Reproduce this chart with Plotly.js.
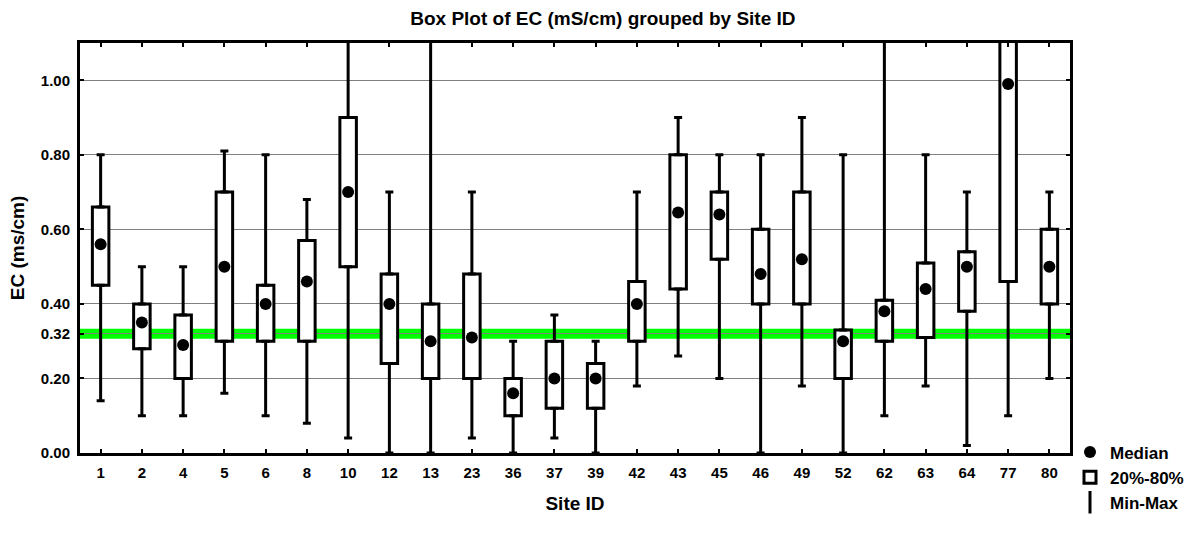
<!DOCTYPE html>
<html>
<head>
<meta charset="utf-8">
<script src="https://cdn.plot.ly/plotly-3.0.1.min.js"></script>
<style>
  html, body { margin: 0; padding: 0; background: #ffffff; }
  #chart { width: 1201px; height: 533px; }
</style>
</head>
<body>
<div id="chart"></div>
<script>
// Site IDs (categories)
const sites = ['1','2','4','5','6','8','10','12','13','23','36','37','39','42','43','45','46','49','52','62','63','64','77','80'];
// Min / 20th pct / median / 80th pct / max of EC (mS/cm)
const minVals    = [0.14,0.10,0.10,0.16,0.10,0.08,0.04,0.00,0.00,0.04,0.00,0.04,0.00,0.18,0.26,0.20,0.00,0.18,0.00,0.10,0.18,0.02,0.10,0.20];
const q20Vals    = [0.45,0.28,0.20,0.30,0.30,0.30,0.50,0.24,0.20,0.20,0.10,0.12,0.12,0.30,0.44,0.52,0.40,0.40,0.20,0.30,0.31,0.38,0.46,0.40];
const medianVals = [0.56,0.35,0.29,0.50,0.40,0.46,0.70,0.40,0.30,0.31,0.16,0.20,0.20,0.40,0.645,0.64,0.48,0.52,0.30,0.38,0.44,0.50,0.99,0.50];
const q80Vals    = [0.66,0.40,0.37,0.70,0.45,0.57,0.90,0.48,0.40,0.48,0.20,0.30,0.24,0.46,0.80,0.70,0.60,0.70,0.33,0.41,0.51,0.54,1.15,0.60];
const maxVals    = [0.80,0.50,0.50,0.81,0.80,0.68,1.20,0.70,1.20,0.70,0.30,0.37,0.30,0.70,0.90,0.80,0.80,0.90,0.80,1.20,0.80,0.70,1.20,0.70];
// Reference guideline value
const guideline = 0.32;
// Y tick values
const yTicks = [0.00, 0.20, 0.32, 0.40, 0.60, 0.80, 1.00];

const FONT = 'Liberation Sans, Arial, Helvetica, sans-serif';

const boxHeights = q80Vals.map((v, i) => v - q20Vals[i]);
const upperLen = maxVals.map((v, i) => v - q80Vals[i]);
const lowerLen = q20Vals.map((v, i) => v - minVals[i]);
const zeros = sites.map(() => 0);

const traces = [
  {
    type: 'bar',
    name: '20%-80%',
    x: sites,
    base: q20Vals,
    y: boxHeights,
    width: 0.4,
    marker: { color: '#ffffff', line: { color: '#000000', width: 3 } },
    legendrank: 2,
    hoverinfo: 'skip'
  },
  {
    type: 'scatter',
    mode: 'markers',
    x: sites,
    y: q80Vals,
    marker: { size: 1, opacity: 0 },
    error_y: { type: 'data', symmetric: false, array: upperLen, arrayminus: zeros,
               color: '#000000', thickness: 3, width: 4 },
    showlegend: false,
    hoverinfo: 'skip'
  },
  {
    type: 'scatter',
    mode: 'markers',
    x: sites,
    y: q20Vals,
    marker: { size: 1, opacity: 0 },
    error_y: { type: 'data', symmetric: false, array: zeros, arrayminus: lowerLen,
               color: '#000000', thickness: 3, width: 4 },
    showlegend: false,
    hoverinfo: 'skip'
  },
  {
    type: 'scatter',
    mode: 'markers',
    name: 'Median',
    x: sites,
    y: medianVals,
    marker: { symbol: 'circle', size: 12, color: '#000000' },
    legendrank: 1
  },
  {
    type: 'scatter',
    mode: 'markers',
    name: 'Min-Max',
    x: [null],
    y: [null],
    marker: { symbol: 'line-ns-open', size: 16, color: '#000000', line: { color: '#000000', width: 3 } },
    legendrank: 3
  }
];

const layout = {
  width: 1201,
  height: 533,
  margin: { l: 80, r: 124, t: 43, b: 61 },
  paper_bgcolor: '#ffffff',
  plot_bgcolor: '#ffffff',
  font: { family: FONT, size: 15, color: '#000000', weight: 'bold' },
  showlegend: true,
  barmode: 'overlay',
  title: {
    text: 'Box Plot of EC (mS/cm) grouped by Site ID',
    font: { family: FONT, size: 19, color: '#000000', weight: 'bold' },
    xref: 'container', x: 0.502, xanchor: 'center',
    yref: 'container', y: 0.966, yanchor: 'middle'
  },
  xaxis: {
    type: 'category',
    range: [-0.5, sites.length - 0.5],
    showgrid: false,
    zeroline: false,
    showline: true, linecolor: '#000000', linewidth: 3,
    mirror: 'ticks',
    ticks: 'inside', ticklen: 4, tickwidth: 2, tickcolor: '#000000',
    ticklabelstandoff: 4,
    tickfont: { family: FONT, size: 15, color: '#000000', weight: 'bold' },
    title: { text: 'Site ID', font: { family: FONT, size: 19, color: '#000000', weight: 'bold' }, standoff: 17 },
    fixedrange: true
  },
  yaxis: {
    range: [0, 1.1],
    tickvals: yTicks,
    tickformat: '.2f',
    showgrid: true, gridcolor: '#808080', gridwidth: 1,
    zeroline: false,
    showline: true, linecolor: '#000000', linewidth: 3,
    mirror: 'ticks',
    ticks: 'inside', ticklen: 4, tickwidth: 2, tickcolor: '#000000',
    ticklabelstandoff: 4,
    tickfont: { family: FONT, size: 15, color: '#000000', weight: 'bold' },
    title: { text: 'EC (ms/cm)', font: { family: FONT, size: 19, color: '#000000', weight: 'bold' }, standoff: 12 },
    fixedrange: true
  },
  shapes: [
    {
      type: 'line', xref: 'paper', yref: 'y',
      x0: 0, x1: 1, y0: guideline, y1: guideline,
      line: { color: '#00ff00', width: 10 },
      layer: 'below'
    }
  ],
  legend: {
    x: 1.0, xanchor: 'left',
    y: 0.045, yanchor: 'top',
    bgcolor: 'rgba(0,0,0,0)',
    borderwidth: 0,
    font: { family: FONT, size: 17, color: '#000000', weight: 'bold' },
    tracegroupgap: 0,
    itemwidth: 30
  }
};

Plotly.newPlot('chart', traces, layout, { displayModeBar: false, staticPlot: true });
</script>
</body>
</html>
